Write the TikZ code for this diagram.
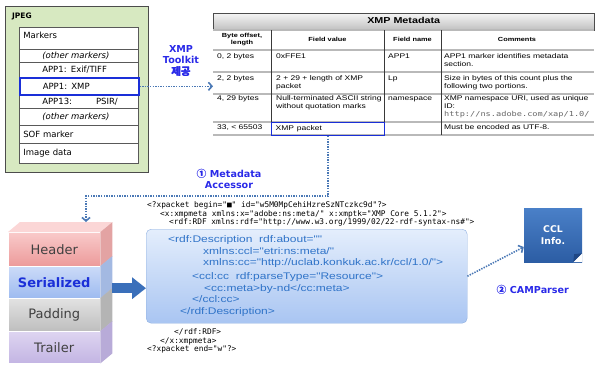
\documentclass[tikz,border=0pt]{standalone}
\usepackage{fontspec}
\setmainfont{DejaVu Sans}
\setmonofont{DejaVu Sans Mono}
\newfontfamily\krfont{Noto Sans CJK KR}
\newfontfamily\tabfont{Liberation Sans}
\usepackage{graphicx}
\usepackage{xcolor}
\usepackage{tikz}
\usetikzlibrary{arrows.meta,positioning,calc}
\newcommand{\wide}[2][l]{\scalebox{1.25}[1]{\begin{tabular}{@{}#1@{}}#2\end{tabular}}}
\newcommand{\krbf}[1]{\rlap{#1}\kern0.45pt#1}
\definecolor{jpeggreen}{HTML}{D7E9C1}
\definecolor{xmpblue}{HTML}{1A2FD8}
\definecolor{notblue}{HTML}{2A2AE8}
\definecolor{dotblue}{HTML}{4A78B5}
\definecolor{codeblue}{HTML}{2F73C8}
\definecolor{codeedge}{HTML}{8FB0E0}
\definecolor{codetop}{HTML}{E4EEFC}
\definecolor{codebot}{HTML}{A9C5F2}
\definecolor{bigblue}{HTML}{3A6FBA}
\definecolor{ccltop}{HTML}{4A80C8}
\definecolor{cclbot}{HTML}{2C5DA4}
\definecolor{cclfold}{HTML}{1F4785}
\definecolor{hdrtop}{HTML}{F9CACA}
\definecolor{hdrbot}{HTML}{EC9A9A}
\definecolor{hdrside}{HTML}{E3A3A3}
\definecolor{hdrlid}{HTML}{FBD6D6}
\definecolor{sertop}{HTML}{CCDBF8}
\definecolor{serbot}{HTML}{9DBBF0}
\definecolor{serside}{HTML}{A3B9E2}
\definecolor{padtop}{HTML}{E2E2E2}
\definecolor{padbot}{HTML}{BEBEBE}
\definecolor{padside}{HTML}{B4B4B4}
\definecolor{trltop}{HTML}{DED5F1}
\definecolor{trlbot}{HTML}{C3B5E3}
\definecolor{trlside}{HTML}{B8ABD8}

\begin{document}
\begin{tikzpicture}[x=1pt,y=-1pt,>=Latex,
  jrow/.style={draw=gray!70!black,fill=white,minimum width=119pt,anchor=north west,inner sep=0pt,line width=0.6pt,text width=111pt,align=left,font=\fontsize{8.5}{10}\selectfont},
  cell/.style={anchor=north west,inner sep=0pt,font=\tabfont\fontsize{6.8}{7.3}\selectfont},
  head/.style={inner sep=0pt,font=\tabfont\fontsize{5.9}{7}\selectfont\bfseries},
  rule/.style={gray!55,line width=1.1pt},
  sep/.style={gray!45!black,line width=0.6pt},
  layer/.style={minimum width=92pt,anchor=north west,inner sep=0pt,draw=white,line width=0.4pt,text=black!75,font=\fontsize{13}{15}\selectfont},
  xmlline/.style={anchor=west,inner sep=0pt,text=codeblue,font=\tabfont\fontsize{9.6}{10}\selectfont},
  mono/.style={anchor=west,inner sep=0pt,font=\fontsize{7.8}{8}\selectfont\ttfamily},
  note/.style={text=notblue,align=center,font=\fontsize{9.6}{11.5}\selectfont\bfseries},
  dotarrow/.style={dotblue,line width=1.6pt,dash pattern=on 1.4pt off 1.2pt,-{Straight Barb[length=3.5pt,width=8pt]}}]

\useasboundingbox (0,0) rectangle (596,364);

\node[draw=gray!60!black,fill=jpeggreen,minimum width=143pt,minimum height=166pt,anchor=north west,inner sep=0pt,line width=0.6pt] (jpeg) at (5,6) {};
\node[anchor=west,inner sep=0pt,font=\fontsize{7.5}{9}\selectfont\bfseries] (jlbl) at (12,16) {JPEG};
\node[jrow,minimum height=22pt,text depth=6pt] (mk) at (19,27) {Markers};
\node[jrow,minimum height=13pt] (om1) at (19,49) {\hspace*{19pt}\textit{(other markers)}};
\node[jrow,minimum height=15pt] (exif) at (19,62) {\hspace*{19pt}APP1: Exif/TIFF};
\node[jrow,minimum height=14pt] (app13) at (19,94) {\hspace*{19pt}APP13:\hspace{24pt}PSIR/};
\node[jrow,minimum height=17pt] (om2) at (19,108) {\hspace*{19pt}\textit{(other markers)}};
\node[jrow,minimum height=18pt] (sof) at (19,125) {SOF marker};
\node[jrow,minimum height=20pt] (img) at (19,143) {Image data};
\node[jrow,minimum height=17pt,draw=xmpblue,line width=1.6pt] (xmp) at (19,77) {\hspace*{19pt}APP1: XMP};

\node[note] (tk) at (181,61) {XMP\\Toolkit\\{\krfont\fontsize{10.5}{11.5}\selectfont\krbf{제공}}};

\node[draw=gray!60!black,top color=gray!8,bottom color=gray!50,minimum width=381pt,minimum height=17pt,anchor=north west,inner sep=0pt,font=\tabfont\fontsize{8.6}{10}\selectfont\bfseries] (ttl) at (213,13) {\wide{XMP Metadata}};
\foreach \y in {30,50,72,94,122,135}
  \draw[rule] (213,\y) -- (594,\y);
\foreach \x in {271,384,441}
  \draw[sep] (\x,30) -- (\x,135);
\node[head] (h1) at (242,40) {\wide[c]{Byte offset,\\length}};
\node[head] (h2) at (327.5,40) {\wide{Field value}};
\node[head] (h3) at (412.5,40) {\wide{Field name}};
\node[head] (h4) at (517,40) {\wide{Comments}};

\node[cell] (c11) at (217,53.5) {\wide{0, 2 bytes}};
\node[cell] (c12) at (276,53.5) {\wide{0xFFE1}};
\node[cell] (c13) at (388,53.5) {\wide{APP1}};
\node[cell] (c14) at (444,53.5) {\wide{APP1 marker identifies metadata\\section.}};
\node[cell] (c21) at (217,75.5) {\wide{2, 2 bytes}};
\node[cell] (c22) at (276,75.5) {\wide{2 + 29 + length of XMP\\packet}};
\node[cell] (c23) at (388,75.5) {\wide{Lp}};
\node[cell] (c24) at (444,75.5) {\wide{Size in bytes of this count plus the\\following two portions.}};
\node[cell] (c31) at (217,95.5) {\wide{4, 29 bytes}};
\node[cell] (c32) at (276,95.5) {\wide{Null-terminated ASCII string\\without quotation marks}};
\node[cell] (c33) at (388,95.5) {\wide{namespace}};
\node[cell] (c34) at (444,95.5) {\wide{XMP namespace URI, used as unique\\ID:\\[1pt]{\color{gray!80!black}\fontsize{6.9}{7.3}\selectfont\ttfamily http://ns.adobe.com/xap/1.0/}}};
\node[cell] (c41) at (217,124.5) {\wide{33, < 65503}};
\node[cell] (c44) at (444,124.5) {\wide{Must be encoded as UTF-8.}};
\node[draw=xmpblue,line width=1.4pt,minimum width=113pt,minimum height=12.5pt,anchor=north west,inner sep=0pt,text width=105pt,align=left,font=\tabfont\fontsize{6.8}{7.3}\selectfont] (pkt) at (271,122) {\wide{XMP packet}};

\coordinate (tin) at (213,86);
\draw[dotarrow] (xmp.east) -- (xmp.east -| tin);

\node[layer,minimum height=34pt,top color=hdrtop,bottom color=hdrbot] (hdr) at (8,232) {Header};
\node[layer,minimum height=32pt,top color=sertop,bottom color=serbot,text=xmpblue,font=\fontsize{13}{15}\selectfont\bfseries] (ser) at (8,266) {Serialized};
\node[layer,minimum height=33pt,top color=padtop,bottom color=padbot] (pad) at (8,298) {Padding};
\node[layer,minimum height=32pt,top color=trltop,bottom color=trlbot] (trl) at (8,331) {Trailer};
\fill[hdrlid] (hdr.north west) -- ++(12,-10) -- ++(92,0) -- (hdr.north east) -- cycle;
\foreach \b/\c in {hdr/hdrside,ser/serside,pad/padside,trl/trlside}
  \fill[\c] (\b.north east) -- ++(12,-10) -- ($(\b.south east)+(12,-10)$) -- (\b.south east) -- cycle;

\coordinate (htop) at ($(hdr.north west)+(12,-10)$);
\coordinate (bend) at (86,196);
\draw[dotarrow] (pkt.south) |- (bend) -- (bend |- htop);
\node[note] (acc) at (229,179) {{\krfont\krbf{①}} Metadata\\Accessor};

\node[draw=codeedge,rounded corners=5pt,top color=codetop,bottom color=codebot,minimum width=321pt,minimum height=94pt,anchor=north west,inner sep=0pt] (code) at (146,229) {};
\coordinate (feed) at ($(ser.east)+(12,6)$);
\draw[bigblue,line width=10pt,-{Triangle[length=14pt,width=21pt]}] (feed) -- (feed -| code.west);

\node[mono] (m1) at (147,205) {<?xpacket begin="■" id="w5M0MpCehiHzreSzNTczkc9d"?>};
\node[mono] (m2) at (160,214) {<x:xmpmeta xmlns:x="adobe:ns:meta/" x:xmptk="XMP Core 5.1.2">};
\node[mono] (m3) at (169,222) {<rdf:RDF xmlns:rdf="http://www.w3.org/1999/02/22-rdf-syntax-ns\#">};
\node[xmlline] (x1) at (168,240) {\wide{<rdf:Description\ \ rdf:about=""}};
\node[xmlline] (x2) at (203,252) {\wide{xmlns:ccl="etri:ns:meta/"}};
\node[xmlline] (x3) at (203,263) {\wide{xmlns:cc="http://uclab.konkuk.ac.kr/ccl/1.0/">}};
\node[xmlline] (x4) at (192,277) {\wide{<ccl:cc\ \ rdf:parseType="Resource">}};
\node[xmlline] (x5) at (204,289) {\wide{<cc:meta>by-nd</cc:meta>}};
\node[xmlline] (x6) at (192,300) {\wide{</ccl:cc>}};
\node[xmlline] (x7) at (180,312) {\wide{</rdf:Description>}};
\node[mono] (m4) at (174,332) {</rdf:RDF>};
\node[mono] (m5) at (160,341) {</x:xmpmeta>};
\node[mono] (m6) at (147,349) {<?xpacket end="w"?>};

\node[top color=ccltop,bottom color=cclbot,minimum width=58pt,minimum height=54pt,inner sep=0pt,align=center,text=white,font=\fontsize{9.3}{12}\selectfont\bfseries] (ccl) at (553,235) {CCL\\Info.};
\fill[white] ($(ccl.south east)+(-9,0)$) -- (ccl.south east) -- ($(ccl.south east)+(0,-9)$) -- cycle;
\fill[cclfold] ($(ccl.south east)+(-9,0)$) -- ($(ccl.south east)+(0,-9)$) -- ($(ccl.south east)+(-8,-8)$) -- cycle;
\draw[dotarrow] (code.east) -- ($(ccl.west)+(0,12)$);
\node[note,anchor=west] (cam) at (493,290) {{\krfont\krbf{②}} CAMParser};
\end{tikzpicture}
\end{document}
